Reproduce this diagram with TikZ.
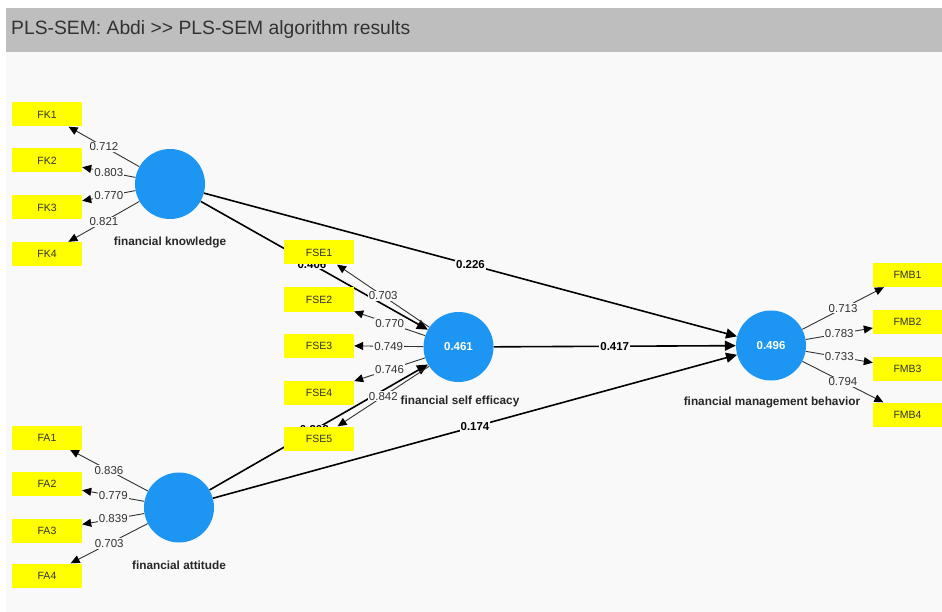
\documentclass[tikz,border=0pt]{standalone}
\usepackage{fontspec}
\setmainfont{Liberation Sans}
\usetikzlibrary{arrows.meta}
\pgfdeclarelayer{back}
\pgfdeclarelayer{edges}
\pgfsetlayers{back,edges,main}
\definecolor{hdr}{RGB}{190,190,190}
\definecolor{canvas}{RGB}{249,249,249}
\definecolor{lvblue}{RGB}{28,150,242}
\definecolor{mvyellow}{RGB}{255,255,0}
\definecolor{txtgray}{RGB}{50,50,50}
\begin{document}
\begin{tikzpicture}[x=1pt,y=-1pt,
 latent/.style={circle,fill=lvblue,minimum size=70pt,inner sep=0pt,text=white,font=\fontsize{11.5}{13}\selectfont\bfseries},
 manifest/.style={rectangle,fill=mvyellow,minimum width=70pt,minimum height=24pt,inner sep=0pt,font=\fontsize{10.5}{12}\selectfont,text=txtgray},
 lvname/.style={font=\fontsize{11.8}{13}\selectfont\bfseries,text=black!85},
 loading/.style={draw=txtgray,line width=0.9pt,-{Triangle[length=9pt,width=8pt,color=black]}},
 loadlbl/.style={fill=canvas,inner sep=1pt,font=\fontsize{11.5}{13}\selectfont,text=txtgray},
 pathedge/.style={draw=black,line width=1.6pt,-{Triangle[length=11pt,width=10pt]}},
 pathlbl/.style={fill=canvas,inner sep=1pt,font=\fontsize{11.5}{13}\selectfont\bfseries},
]
\useasboundingbox (0,0) rectangle (942,612);
\begin{pgfonlayer}{back}
\fill[canvas] (6,52) rectangle (942,612);
\fill[hdr] (6,8) rectangle (942,52);
\end{pgfonlayer}
\node[anchor=west,font=\fontsize{19.3}{21}\selectfont,text=txtgray,inner sep=0pt] (title) at (11,30) {PLS-SEM: Abdi >\kern0pt> PLS-SEM algorithm results};

% latent variables
\node[latent] (fk) at (170,184) {};
\node[latent] (fa) at (179,507.5) {};
\node[latent] (fse) at (458.5,347) {0.461};
\node[latent] (fmb) at (771,345.5) {0.496};
\node[lvname] (fkname) at (170,242) {financial knowledge};
\node[lvname] (faname) at (179,565) {financial attitude};
\node[lvname] (fsename) at (460,401) {financial self efficacy};
\node[lvname] (fmbname) at (772,402) {financial management behavior};

% indicators
\node[manifest] (fk1) at (47,114.5) {FK1};
\node[manifest] (fk2) at (47,160.5) {FK2};
\node[manifest] (fk3) at (47,207.5) {FK3};
\node[manifest] (fk4) at (47,254) {FK4};
\node[manifest] (fa1) at (47,437.5) {FA1};
\node[manifest] (fa2) at (47,484) {FA2};
\node[manifest] (fa3) at (47,530.5) {FA3};
\node[manifest] (fa4) at (47,575.5) {FA4};
\node[manifest] (fse1) at (319,252.5) {FSE1};
\node[manifest] (fse2) at (319,299.5) {FSE2};
\node[manifest] (fse3) at (319,345.5) {FSE3};
\node[manifest] (fse4) at (319,392.5) {FSE4};
\node[manifest] (fse5) at (319,438.5) {FSE5};
\node[manifest,minimum width=69pt] (fmb1) at (907.5,275) {FMB1};
\node[manifest,minimum width=69pt] (fmb2) at (907.5,322) {FMB2};
\node[manifest,minimum width=69pt] (fmb3) at (907.5,368.5) {FMB3};
\node[manifest,minimum width=69pt] (fmb4) at (907.5,414.5) {FMB4};

\begin{pgfonlayer}{edges}
% structural paths
\draw[pathedge] (fk) -- node[pathlbl]{0.226} (fmb);
\draw[pathedge] (fk) -- node[pathlbl,pos=0.49]{0.406} (fse);
\draw[pathedge] (fa) -- node[pathlbl,pos=0.48]{0.308} (fse);
\draw[pathedge] (fse) -- node[pathlbl]{0.417} (fmb);
\draw[pathedge] (fa) -- node[pathlbl]{0.174} (fmb);
% outer loadings
\draw[loading] (fk) -- node[loadlbl]{0.712} (fk1);
\draw[loading] (fk) -- node[loadlbl]{0.803} (fk2);
\draw[loading] (fk) -- node[loadlbl]{0.770} (fk3);
\draw[loading] (fk) -- node[loadlbl]{0.821} (fk4);
\draw[loading] (fa) -- node[loadlbl]{0.836} (fa1);
\draw[loading] (fa) -- node[loadlbl]{0.779} (fa2);
\draw[loading] (fa) -- node[loadlbl]{0.839} (fa3);
\draw[loading] (fa) -- node[loadlbl]{0.703} (fa4);
\draw[loading] (fse) -- node[loadlbl]{0.703} (fse1);
\draw[loading] (fse) -- node[loadlbl]{0.770} (fse2);
\draw[loading] (fse) -- node[loadlbl]{0.749} (fse3);
\draw[loading] (fse) -- node[loadlbl]{0.746} (fse4);
\draw[loading] (fse) -- node[loadlbl]{0.842} (fse5);
\draw[loading] (fmb) -- node[loadlbl]{0.713} (fmb1);
\draw[loading] (fmb) -- node[loadlbl]{0.783} (fmb2);
\draw[loading] (fmb) -- node[loadlbl]{0.733} (fmb3);
\draw[loading] (fmb) -- node[loadlbl]{0.794} (fmb4);
\end{pgfonlayer}
\end{tikzpicture}
\end{document}
